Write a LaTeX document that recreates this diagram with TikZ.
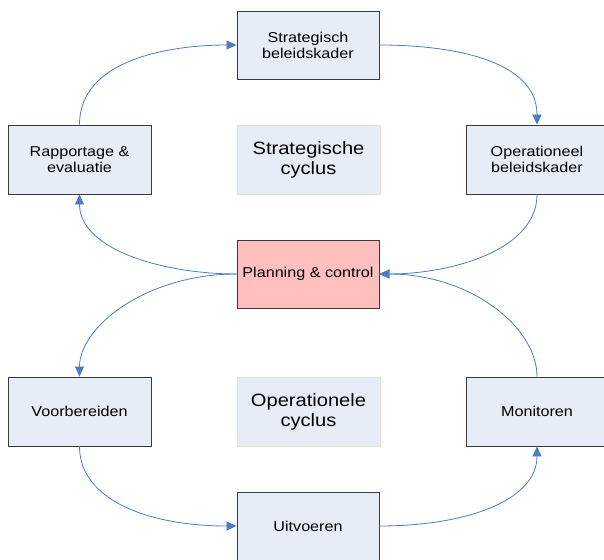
\documentclass[tikz,border=0pt]{standalone}
\usepackage{fontspec}
\setmainfont{Liberation Sans}[FakeStretch=1.13]
\usetikzlibrary{arrows.meta}
\definecolor{boxfill}{HTML}{E7EDF6}
\definecolor{boxline}{HTML}{3A3A3A}
\definecolor{cycline}{HTML}{DCE5D2}
\definecolor{pcfill}{HTML}{FFBFBF}
\definecolor{conn}{HTML}{4A7EC4}
\tikzset{
  stepbox/.style={draw=boxline, line width=0.9pt, fill=boxfill, minimum width=142pt, minimum height=68pt, inner sep=0pt, align=center, font=\fontsize{14.3}{16}\selectfont},
  pcbox/.style={stepbox, fill=pcfill},
  cycbox/.style={draw=cycline, line width=0.9pt, fill=boxfill, minimum width=143pt, minimum height=69pt, inner sep=0pt, align=center, font=\fontsize{17.8}{20}\selectfont},
  conn/.style={draw=conn, line width=0.8pt, -{Triangle[length=10pt,width=9pt]}}
}
\begin{document}
\begin{tikzpicture}[x=1pt,y=-1pt]
\useasboundingbox (0,0) rectangle (604,559);
\clip (0,0) rectangle (604,559);
\node[stepbox] (strat) at (308,45) {Strategisch\\beleidskader};
\node[stepbox, minimum width=143pt, minimum height=69pt] (rapp) at (79.5,159.5) {Rapportage \&\\evaluatie};
\node[cycbox] (strc) at (308.5,159.5) {Strategische\\cyclus};
\node[stepbox, minimum height=69pt] (oper) at (537,159.5) {Operationeel\\beleidskader};
\node[pcbox] (plan) at (308,274) {Planning \& control};
\node[stepbox, minimum width=143pt, minimum height=69pt] (voor) at (79.5,411.5) {Voorbereiden};
\node[cycbox] (opc) at (308.5,411.5) {Operationele\\cyclus};
\node[stepbox, minimum height=69pt] (mon) at (537,411.5) {Monitoren};
\node[stepbox] (uit) at (308,526) {Uitvoeren};
\draw[conn] (rapp.north) .. controls +(0,-65) and +(-67,0) .. (strat.west);
\draw[conn] (strat.east) .. controls +(71,0) and +(0,-65) .. (oper.north);
\draw[conn] (oper.south) .. controls +(0,56) and +(71,0) .. (plan.east);
\draw[conn] (plan.west) .. controls +(-71,0) and +(0,56) .. (rapp.south);
\draw[conn] (plan.west) .. controls +(-90,0) and +(0,-50) .. (voor.north);
\draw[conn] (voor.south) .. controls +(0,54) and +(-87,0) .. (uit.west);
\draw[conn] (uit.east) .. controls +(87,0) and +(0,54) .. (mon.south);
\draw[conn] (mon.north) .. controls +(0,-50) and +(90,0) .. (plan.east);
\end{tikzpicture}
\end{document}
